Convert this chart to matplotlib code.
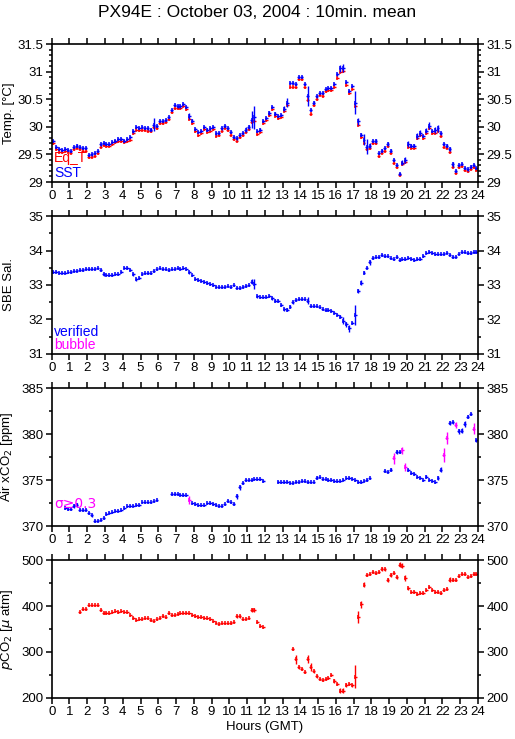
import numpy as np
import matplotlib as mpl

mpl.use('agg')

import matplotlib.pyplot as plt
from matplotlib.ticker import MultipleLocator

nan = np.nan

## 10-minute bins over one day (144 bins)
hours = (np.arange(144) + 0.5) / 6.0

sst = [
    29.74, 29.63, 29.60, 29.58, 29.60, 29.58, 29.56, 29.63, 29.66, 29.63, 29.61, 29.61,
    29.49, 29.50, 29.52, 29.56, 29.68, 29.71, 29.69, 29.69, 29.72, 29.75, 29.78, 29.78,
    29.75, 29.78, 29.81, 29.92, 29.99, 29.98, 29.99, 29.98, 29.97, 29.95, 30.04, 30.01,
    30.11, 30.11, 30.13, 30.18, 30.30, 30.39, 30.37, 30.37, 30.42, 30.36, 30.20, 30.11,
    29.96, 29.90, 29.92, 30.00, 29.95, 29.97, 30.00, 29.88, 29.89, 29.97, 30.02, 29.98,
    29.90, 29.82, 29.79, 29.85, 29.89, 29.95, 30.00, 30.13, 30.17, 29.92, 29.95, 30.11,
    30.16, 30.25, 30.36, 30.24, 30.20, 30.22, 30.33, 30.44, 30.79, 30.79, 30.77, 30.91,
    30.91, 30.77, 30.56, 30.30, 30.44, 30.55, 30.62, 30.61, 30.69, 30.70, 30.70, 30.77,
    30.95, 31.06, 31.07, 30.81, 30.65, 30.74, 30.44, 30.10, 29.86, 29.77, 29.64, 29.66,
    29.74, 29.74, 29.52, 29.57, 29.61, 29.69, 29.57, 29.40, 29.31, 29.15, 29.35, 29.40,
    29.69, 29.66, 29.66, 29.83, 29.89, 29.83, 29.93, 30.02, 29.93, 29.94, 29.97, 29.88,
    29.69, 29.66, 29.60, 29.32, 29.20, 29.31, 29.32, 29.25, 29.23, 29.28, 29.31, 29.26,
]
sst_sd = [
    .02, .02, .02, .02, .02, .02, .02, .02, .02, .02, .02, .02,
    .02, .02, .02, .02, .02, .02, .02, .02, .02, .02, .02, .02,
    .02, .02, .02, .03, .02, .02, .02, .02, .02, .02, .12, .02,
    .02, .02, .02, .02, .02, .02, .02, .02, .02, .02, .05, .03,
    .02, .02, .02, .02, .02, .02, .02, .02, .02, .02, .02, .02,
    .02, .02, .02, .02, .02, .05, .04, .15, .21, .02, .02, .02,
    .02, .04, .02, .02, .02, .02, .05, .08, .02, .02, .02, .02,
    .02, .02, .18, .02, .02, .02, .02, .02, .02, .02, .02, .02,
    .02, .06, .07, .02, .02, .02, .21, .06, .02, .10, .14, .05,
    .02, .04, .02, .02, .02, .03, .02, .02, .02, .02, .05, .06,
    .05, .02, .02, .05, .06, .02, .05, .06, .02, .06, .06, .02,
    .02, .02, .04, .04, .02, .02, .02, .02, .03, .02, .02, .02,
]
eq_t = [
    29.70, 29.59, 29.55, 29.54, 29.56, 29.54, 29.53, 29.59, 29.62, 29.59, 29.57, 29.57,
    29.45, 29.46, 29.48, 29.52, 29.64, 29.67, 29.65, 29.66, 29.68, 29.72, 29.74, 29.74,
    29.72, 29.74, 29.77, 29.88, 29.95, 29.94, 29.95, 29.94, 29.93, 29.92, 29.99, 29.97,
    30.07, 30.07, 30.09, 30.14, 30.26, 30.34, 30.34, 30.34, 30.38, 30.32, 30.15, 30.07,
    29.92, 29.85, 29.88, 29.96, 29.91, 29.93, 29.96, 29.84, 29.85, 29.93, 29.98, 29.94,
    29.86, 29.78, 29.75, 29.81, 29.85, 29.91, 29.96, 30.08, 30.11, 29.87, 29.91, 30.07,
    30.12, 30.21, 30.32, 30.20, 30.16, 30.18, 30.29, 30.39, 30.73, 30.73, 30.72, 30.86,
    30.86, 30.72, 30.49, 30.24, 30.39, 30.50, 30.58, 30.56, 30.65, 30.66, 30.66, 30.73,
    30.89, 31.00, 31.01, 30.76, 30.61, 30.69, 30.38, 30.04, 29.81, 29.71, 29.59, 29.61,
    29.70, 29.70, 29.47, 29.53, 29.57, 29.65, 29.53, 29.35, 29.27, 29.13, 29.32, 29.36,
    29.64, 29.62, 29.62, 29.79, 29.85, 29.79, 29.88, 29.97, 29.88, 29.89, 29.93, 29.84,
    29.64, 29.62, 29.55, 29.28, 29.17, 29.27, 29.29, 29.21, 29.20, 29.24, 29.27, 29.22,
]

salinity = [
    33.38, 33.39, 33.36, 33.36, 33.36, 33.37, 33.38, 33.41, 33.42, 33.44, 33.44, 33.46,
    33.46, 33.47, 33.47, 33.48, 33.43, 33.31, 33.30, 33.28, 33.29, 33.31, 33.31, 33.39,
    33.50, 33.49, 33.43, 33.31, 33.17, 33.20, 33.32, 33.34, 33.35, 33.34, 33.41, 33.45,
    33.48, 33.47, 33.45, 33.43, 33.45, 33.47, 33.48, 33.47, 33.48, 33.45, 33.37, 33.28,
    33.17, 33.15, 33.13, 33.10, 33.06, 33.02, 32.99, 32.95, 32.94, 32.94, 32.95, 32.96,
    32.95, 32.99, 32.92, 32.91, 32.94, 32.97, 32.99, 33.10, 33.03, 32.67, 32.64, 32.64,
    32.66, 32.68, 32.61, 32.55, 32.54, 32.42, 32.30, 32.28, 32.37, 32.50, 32.56, 32.59,
    32.59, 32.58, 32.55, 32.39, 32.39, 32.38, 32.35, 32.29, 32.27, 32.27, 32.26, 32.20,
    32.14, 32.08, 31.96, 31.86, 31.74, 31.90, 32.13, 32.83, 33.07, 33.36, 33.50, 33.66,
    33.78, 33.80, 33.81, 33.87, 33.84, 33.83, 33.77, 33.74, 33.81, 33.73, 33.74, 33.75,
    33.79, 33.76, 33.73, 33.75, 33.75, 33.84, 33.94, 33.96, 33.94, 33.89, 33.89, 33.89,
    33.91, 33.94, 33.88, 33.81, 33.82, 33.91, 33.96, 33.95, 33.93, 33.93, 33.95, 33.96,
]
salinity_sd = [
    .02, .02, .02, .02, .02, .02, .02, .02, .02, .02, .02, .02,
    .02, .02, .02, .02, .02, .04, .02, .02, .02, .02, .02, .02,
    .02, .02, .02, .04, .04, .02, .02, .02, .02, .02, .02, .02,
    .02, .02, .02, .02, .02, .02, .02, .02, .02, .02, .04, .02,
    .02, .02, .02, .02, .02, .02, .02, .02, .02, .02, .02, .02,
    .02, .02, .02, .02, .02, .02, .02, .07, .15, .04, .02, .02,
    .02, .02, .04, .04, .02, .04, .04, .04, .04, .04, .02, .02,
    .02, .02, .10, .02, .02, .02, .02, .02, .02, .02, .02, .02,
    .02, .04, .10, .07, .10, .04, .30, .05, .07, .05, .02, .07,
    .02, .02, .02, .02, .02, .02, .02, .02, .02, .02, .02, .02,
    .02, .02, .02, .02, .02, .02, .02, .02, .02, .02, .02, .02,
    .02, .02, .02, .02, .02, .02, .02, .02, .02, .02, .02, .02,
]

xco2 = [
    nan, nan, nan, nan, 371.92, 371.85, 371.81, 372.21, 372.30, 371.78, 371.74, 371.78,
    371.38, 371.16, 370.54, 370.58, 370.69, 370.91, 371.30, 371.45, 371.49, 371.67, 371.67, 371.70,
    371.92, 372.14, 372.21, 372.21, 372.28, 372.28, 372.57, 372.57, 372.57, 372.57, 372.68, 372.79,
    nan, nan, nan, nan, 373.48, 373.48, 373.44, 373.41, 373.37, 373.33, 372.79, 372.46,
    372.39, 372.25, 372.25, 372.25, 372.46, 372.50, 372.39, 372.28, 372.21, 372.21, 372.36, 372.68,
    372.57, 372.39, 373.22, 374.20, 374.67, 375.00, 375.04, 375.04, 375.07, 375.07, 375.07, 374.89,
    nan, nan, nan, nan, 374.78, 374.75, 374.78, 374.82, 374.71, 374.71, 374.82, 374.82,
    374.89, 374.86, 374.78, 374.75, 374.75, 375.25, 375.29, 375.14, 375.07, 375.00, 375.04, 374.89,
    374.86, 374.93, 375.04, 375.18, 375.22, 375.14, 374.96, 374.78, 374.78, 374.93, 375.00, 375.18,
    nan, nan, nan, nan, 375.94, 375.91, 376.12, 377.36, 378.04, 378.04, 378.22, 376.41,
    376.05, 375.76, 375.65, 375.36, 375.25, 374.96, 375.36, 375.04, 374.93, 374.75, 375.22, 376.12,
    377.75, 379.57, 381.20, 381.27, 381.01, 380.29, 380.36, 381.09, 381.88, 382.17, 380.58, 379.31,
]
xco2_sd = [
    0, 0, 0, 0, .08, .08, .08, .20, .20, .08, .08, .08,
    .10, .20, .15, .08, .08, .10, .08, .08, .08, .08, .08, .08,
    .08, .08, .08, .08, .08, .08, .08, .08, .08, .08, .08, .08,
    0, 0, 0, 0, .08, .08, .08, .08, .08, .08, .45, .08,
    .08, .08, .08, .08, .08, .08, .08, .08, .08, .08, .08, .10,
    .08, .10, .25, .25, .15, .08, .08, .08, .08, .08, .08, .08,
    0, 0, 0, 0, .08, .08, .08, .08, .08, .08, .08, .08,
    .08, .08, .08, .08, .08, .15, .08, .08, .08, .08, .08, .08,
    .08, .08, .08, .08, .08, .08, .08, .08, .08, .08, .08, .08,
    0, 0, 0, 0, .10, .08, .15, .60, .20, .15, .40, .40,
    .10, .08, .08, .08, .08, .08, .15, .08, .08, .08, .20, .28,
    .75, .65, .25, .20, .30, .28, .28, .28, .15, .08, .60, .20,
]

pco2 = [
    nan, nan, nan, nan, nan, nan, nan, nan, nan, 387.0, 393.5, 393.5,
    401.4, 401.4, 401.4, 401.4, 390.6, 384.8, 384.8, 384.1, 386.2, 388.4, 386.9, 388.4,
    387.7, 386.2, 379.7, 374.6, 370.3, 371.0, 372.5, 373.2, 373.2, 369.6, 368.1, 371.0,
    374.6, 379.0, 375.4, 384.8, 380.4, 381.1, 382.6, 384.1, 385.5, 385.5, 384.1, 380.4,
    378.3, 376.8, 376.8, 374.6, 373.2, 371.0, 366.7, 363.8, 361.6, 362.3, 362.3, 362.3,
    363.0, 364.5, 377.5, 377.5, 371.0, 372.5, 373.2, 390.6, 391.3, 365.2, 357.2, 353.6,
    nan, nan, nan, nan, nan, nan, nan, nan, nan, 305.8, 284.1, 266.7,
    263.8, 257.2, 284.8, 266.7, 258.0, 247.1, 240.6, 238.4, 241.3, 243.5, 250.0, 237.0,
    230.4, 215.9, 215.9, 227.5, 230.4, 227.5, 246.4, 376.8, 403.6, 446.4, 466.7, 470.3,
    473.2, 471.0, 473.2, 480.4, 479.7, 456.5, 467.4, 472.5, 462.3, 489.9, 487.7, 460.9,
    438.4, 431.2, 430.4, 426.1, 428.3, 428.3, 434.1, 440.6, 435.5, 431.2, 431.2, 427.5,
    434.1, 436.2, 457.2, 457.2, 457.2, 464.5, 470.3, 470.3, 463.8, 464.5, 469.6, 469.6,
]
pco2_sd = [
    0, 0, 0, 0, 0, 0, 0, 0, 0, 1.5, 2, 1.5,
    1.5, 1.5, 1.5, 1.5, 2, 1.5, 1.5, 1.5, 1.5, 1.5, 1.5, 1.5,
    1.5, 1.5, 1.5, 2, 1.5, 1.5, 1.5, 1.5, 1.5, 1.5, 1.5, 1.5,
    1.5, 2, 1.5, 3, 1.5, 1.5, 1.5, 1.5, 1.5, 1.5, 1.5, 1.5,
    1.5, 1.5, 1.5, 1.5, 1.5, 1.5, 1.5, 1.5, 1.5, 1.5, 1.5, 1.5,
    1.5, 1.5, 4, 3, 1.5, 1.5, 1.5, 4, 4, 3, 2, 1.5,
    0, 0, 0, 0, 0, 0, 0, 0, 0, 2, 10, 3,
    2, 2, 9, 9, 3, 3, 2, 2, 2, 2, 3, 4,
    3, 5, 6, 4, 3, 3, 25, 13, 7, 5, 2, 2,
    2, 2, 2, 4, 4, 4, 5, 2, 4, 6, 5, 6,
    4, 2, 2, 2, 2, 2, 2, 2, 2, 2, 2, 2,
    2, 2, 6, 3, 2, 2, 2, 2, 2, 2, 2, 2,
]

plt.rcParams['font.family'] = ['Liberation Sans', 'DejaVu Sans']
plt.rcParams['font.size'] = 9.5

BLUE = '#0000ff'
RED = '#ff0000'
MAGENTA = '#ff00ff'

fig = plt.figure(figsize=(5.15, 7.39), dpi=100)
fig.text(0.5, 0.983, 'PX94E : October 03, 2004 : 10min. mean',
         ha='center', va='center', fontsize=12.5)

panel_bottoms = [0.7537, 0.5210, 0.2882, 0.0555]
axes = [fig.add_axes([0.1004, b, 0.8277, 0.1867]) for b in panel_bottoms]


def draw(ax, y, sd, color):
    y = np.asarray(y, dtype=float)
    sd = np.asarray(sd, dtype=float)
    ok = ~np.isnan(y)
    color = np.asarray(np.broadcast_to(np.asarray(color, dtype=object), y.shape))
    for c in np.unique(color[ok].astype(str)):
        m = ok & (color.astype(str) == c)
        # 10-min span as horizontal bar, std as vertical bar
        ax.errorbar(hours[m], y[m], xerr=1 / 12., yerr=sd[m], fmt='none',
                    ecolor=c, elinewidth=1.0, capsize=0)
        # small tick at the mean
        ax.plot(hours[m], y[m], ls='none', marker='|', ms=3.2, mew=1.1, color=c)


def style(ax, ylim, major, minor, ylabel):
    ax.set_xlim(0, 24)
    ax.set_ylim(*ylim)
    ax.xaxis.set_major_locator(MultipleLocator(1))
    ax.yaxis.set_major_locator(MultipleLocator(major))
    ax.yaxis.set_minor_locator(MultipleLocator(minor))
    ax.tick_params(which='both', direction='out', top=True, right=True,
                   labelright=True, width=1.1)
    ax.tick_params(which='major', length=4, pad=2)
    ax.tick_params(which='minor', length=2.5)
    for s in ax.spines.values():
        s.set_linewidth(1.2)
    ax.set_ylabel(ylabel, labelpad=3)
    ax.yaxis.set_label_coords(-0.085, 0.5)


## Panel 1 : temperatures
ax = axes[0]
draw(ax, eq_t, [0.01] * 144, RED)
draw(ax, sst, sst_sd, BLUE)
style(ax, (29, 31.5), 0.5, 0.1, 'Temp. [°C]')
ax.yaxis.set_major_formatter(mpl.ticker.FuncFormatter(lambda v, p: ('%g' % v)))
ax.text(0.005, 0.175, 'Eq_T', color=RED, transform=ax.transAxes, fontsize=10, va='center')
ax.text(0.005, 0.066, 'SST', color=BLUE, transform=ax.transAxes, fontsize=10, va='center')

## Panel 2 : salinity
ax = axes[1]
draw(ax, salinity, salinity_sd, BLUE)
style(ax, (31, 35), 1, 0.5, 'SBE Sal.')
ax.text(0.005, 0.16, 'verified', color=BLUE, transform=ax.transAxes, fontsize=10, va='center')
ax.text(0.005, 0.065, 'bubble', color=MAGENTA, transform=ax.transAxes, fontsize=10, va='center')

## Panel 3 : air xCO2
ax = axes[2]
xco2_col = np.where(np.asarray(xco2_sd) >= 0.3, MAGENTA, BLUE)
draw(ax, xco2, xco2_sd, xco2_col)
style(ax, (370, 385), 5, 2.5, 'Air xCO$_2$ [ppm]')
ax.text(0.005, 0.16, 'σ≥0.3', color=MAGENTA, transform=ax.transAxes, fontsize=10,
        va='center', family=['DejaVu Sans'])

## Panel 4 : pCO2
ax = axes[3]
draw(ax, pco2, pco2_sd, RED)
style(ax, (200, 500), 100, 50, r'$p$CO$_2$ [$\mu$ atm]')
ax.set_xlabel('Hours (GMT)', labelpad=2)

fig.savefig('out.png', dpi=100)
